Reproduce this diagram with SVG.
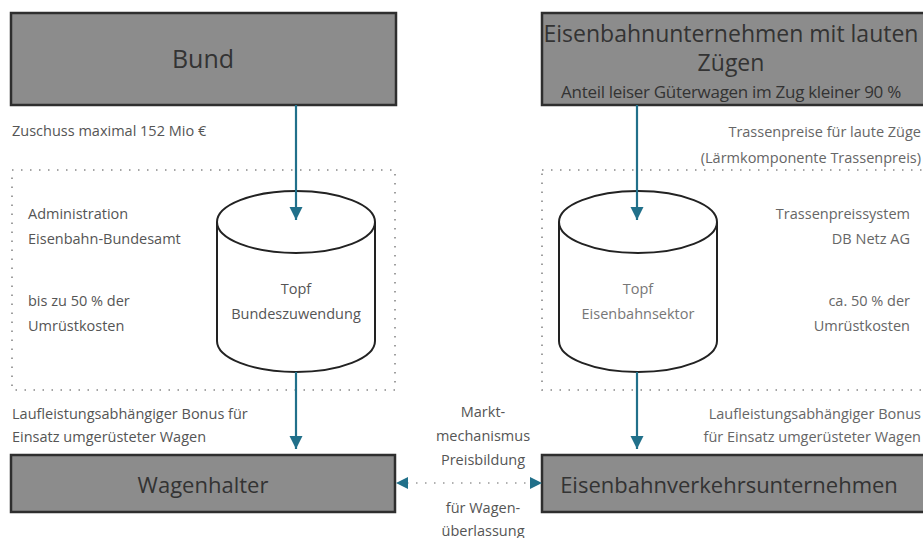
<svg xmlns="http://www.w3.org/2000/svg" width="923" height="538" viewBox="0 0 923 538">
<defs>
<style>
.box{fill:#8c8c8c;stroke:#2e2e2e;stroke-width:2.5}
.bt{font-family:"Open Sans","Noto Sans",sans-serif;fill:#333;font-size:22px;text-anchor:middle;dominant-baseline:central}
.lbl{font-family:"Open Sans","Noto Sans",sans-serif;fill:#555;font-size:14.5px;dominant-baseline:central}
.lbr{font-family:"Open Sans","Noto Sans",sans-serif;fill:#666;font-size:14.5px;dominant-baseline:central;text-anchor:end}
.mid{font-family:"Open Sans","Noto Sans",sans-serif;fill:#555;font-size:14.5px;dominant-baseline:central;text-anchor:middle}
.dot{fill:none;stroke:#888;stroke-width:1.6;stroke-dasharray:1.5 7.5}
.cyl{fill:#fff;stroke:#222;stroke-width:2}
.arr{fill:none;stroke:#21708a;stroke-width:2.2}
</style>
<marker id="ah" viewBox="0 0 10 10" refX="10" refY="5" markerWidth="6" markerHeight="6" orient="auto-start-reverse" markerUnits="strokeWidth">
<path d="M0,0 L10,5 L0,10 Z" fill="#21708a"/>
</marker>
</defs>
<rect width="923" height="538" fill="#fff"/>

<g id="frames">
<rect class="dot" x="12" y="170" width="383" height="220"/>
<rect class="dot" x="542" y="170" width="390" height="220"/>
</g>

<g id="bund">
<rect class="box" x="11" y="13" width="385" height="92"/>
<text class="bt" x="203" y="58" style="font-size:25px">Bund</text>
</g>

<g id="eisenbahnunternehmen">
<rect class="box" x="542" y="13" width="390" height="92"/>
<text class="bt" x="731" y="33" style="font-size:23px">Eisenbahnunternehmen mit lauten</text>
<text class="bt" x="731" y="62" style="font-size:23px">Zügen</text>
<text class="bt" x="731" y="91" style="font-size:17px;letter-spacing:-0.3px">Anteil leiser Güterwagen im Zug kleiner 90 %</text>
</g>

<g id="topf-bund">
<path class="cyl" d="M217,222 L217,341 A79,31 0 0 0 375,341 L375,222"/>
<ellipse class="cyl" cx="296" cy="222" rx="79" ry="31"/>
<text class="mid" x="296" y="288">Topf</text>
<text class="mid" x="296" y="313">Bundeszuwendung</text>
</g>

<g id="topf-eisenbahn">
<path class="cyl" d="M559,222 L559,341 A79,31 0 0 0 717,341 L717,222"/>
<ellipse class="cyl" cx="638" cy="222" rx="79" ry="31"/>
<text class="mid" x="638" y="288" style="fill:#777">Topf</text>
<text class="mid" x="638" y="313" style="fill:#777">Eisenbahnsektor</text>
</g>

<g id="wagenhalter">
<rect class="box" x="11" y="455" width="384" height="57"/>
<text class="bt" x="203" y="484">Wagenhalter</text>
</g>

<g id="evu">
<rect class="box" x="542" y="455" width="390" height="57"/>
<text class="bt" x="729" y="484">Eisenbahnverkehrsunternehmen</text>
</g>

<g id="labels">
<text class="lbl" x="12" y="130">Zuschuss maximal 152 Mio €</text>
<text class="lbl" x="28" y="213">Administration</text>
<text class="lbl" x="28" y="238">Eisenbahn-Bundesamt</text>
<text class="lbl" x="28" y="300">bis zu 50 % der</text>
<text class="lbl" x="28" y="325">Umrüstkosten</text>
<text class="lbl" x="12" y="413">Laufleistungsabhängiger Bonus für</text>
<text class="lbl" x="12" y="436">Einsatz umgerüsteter Wagen</text>
<text class="lbr" x="921" y="131">Trassenpreise für laute Züge</text>
<text class="lbr" x="921" y="157">(Lärmkomponente Trassenpreis)</text>
<text class="lbr" x="910" y="213">Trassenpreissystem</text>
<text class="lbr" x="910" y="238">DB Netz AG</text>
<text class="lbr" x="910" y="300">ca. 50 % der</text>
<text class="lbr" x="910" y="325">Umrüstkosten</text>
<text class="lbr" x="921" y="413">Laufleistungsabhängiger Bonus</text>
<text class="lbr" x="921" y="436">für Einsatz umgerüsteter Wagen</text>
<text class="mid" x="483" y="411">Markt-</text>
<text class="mid" x="483" y="435">mechanismus</text>
<text class="mid" x="483" y="459">Preisbildung</text>
<text class="mid" x="483" y="507">für Wagen-</text>
<text class="mid" x="483" y="530">überlassung</text>
</g>

<g id="connectors">
<line class="arr" x1="296" y1="105" x2="296" y2="220" marker-end="url(#ah)"/>
<line class="arr" x1="637" y1="105" x2="637" y2="220" marker-end="url(#ah)"/>
<line class="arr" x1="296" y1="372" x2="296" y2="449" marker-end="url(#ah)"/>
<line class="arr" x1="637" y1="372" x2="637" y2="449" marker-end="url(#ah)"/>
<line x1="398" y1="483" x2="540" y2="483" stroke="#999" stroke-width="1.6" stroke-dasharray="1.5 7.5"/>
<path d="M396,483 L408,477 L408,489 Z" fill="#21708a"/>
<path d="M542,483 L530,477 L530,489 Z" fill="#21708a"/>
</g>
</svg>
